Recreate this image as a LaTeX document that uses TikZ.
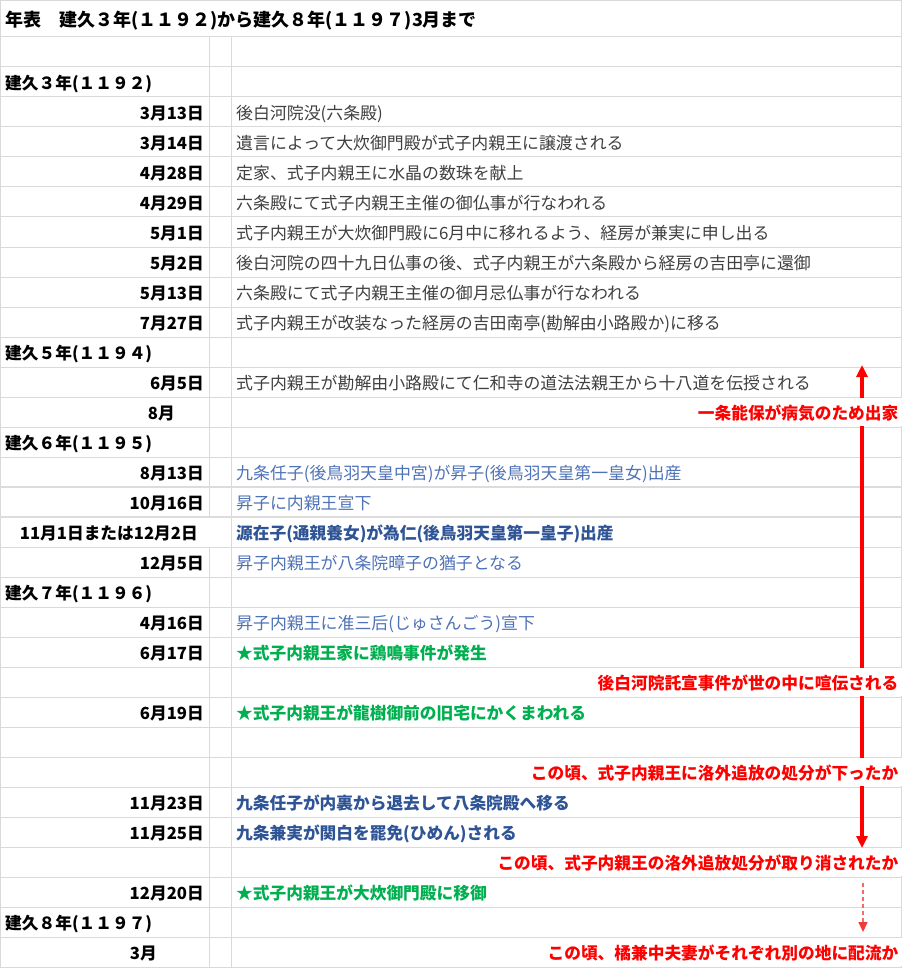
\documentclass[tikz,border=0pt]{standalone}
\usepackage{fontspec}
\setmainfont{Noto Sans CJK JP}
\usetikzlibrary{arrows.meta}
\definecolor{gridc}{HTML}{D9D9D9}
\definecolor{gridthick}{HTML}{DCDCDC}
\definecolor{evgray}{HTML}{404040}
\definecolor{ltblue}{HTML}{4E72B8}
\definecolor{dkblue}{HTML}{2F5496}
\definecolor{exgreen}{HTML}{00B050}
\definecolor{exred}{HTML}{FF0000}
\definecolor{dashred}{HTML}{F26B6B}
\definecolor{dashhead}{HTML}{F03A3A}
\begin{document}
\begin{tikzpicture}[x=1pt,y=-1pt,
  gridline/.style={draw=gridc,line width=1pt},
  thickgrid/.style={draw=gridthick,line width=2.5pt},
  basefont/.style={font=\fontsize{16.9}{20}\selectfont},
  boldfont/.style={font=\fontsize{16.7}{20}\selectfont\bfseries},
  titletxt/.style={inner sep=0pt,anchor=base west,font=\fontsize{18}{22}\selectfont\bfseries},
  yeartxt/.style={inner sep=0pt,anchor=base west,boldfont},
  datetxt/.style={inner sep=0pt,anchor=base east,boldfont},
  evtxt/.style={inner sep=0pt,anchor=base west,basefont,text=evgray},
  lbtxt/.style={inner sep=0pt,anchor=base west,basefont,text=ltblue},
  dbtxt/.style={inner sep=0pt,anchor=base west,boldfont,text=dkblue},
  grtxt/.style={inner sep=0pt,anchor=base west,boldfont,text=exgreen},
  redlabel/.style={anchor=base east,boldfont,text=exred,fill=white,inner xsep=4.5pt,inner ysep=0pt,text height=21.5pt,text depth=6.5pt},
  redarrow/.style={draw=exred,line width=3.3pt,{Triangle[width=11pt,length=12pt]}-{Triangle[width=11pt,length=12pt]}},
  dasharrow/.style={draw=dashred,line width=1.5pt,dash pattern=on 4pt off 3pt,-{Triangle[width=9pt,length=10pt,fill=dashhead,color=dashhead]}}
]
\useasboundingbox (0,0) rectangle (904,968);
\fill[white] (0,0) rectangle (904,968);
% grid
\draw[gridline] (0,0.5) -- (902,0.5);
\foreach \k in {0,...,31} {\draw[gridline] (0,{37+30*\k}) -- (902,{37+30*\k});}
\draw[gridline] (0.5,0) -- (0.5,967.5);
\draw[gridline] (901.5,0) -- (901.5,967.5);
\draw[gridline] (231.5,37) -- (231.5,967.5);
\draw[gridline] (209.5,37) -- (209.5,517);
\draw[gridline] (209.5,547) -- (209.5,967.5);
\draw[thickgrid] (0,487) -- (902,487);
\draw[thickgrid] (0,517) -- (902,517);
% title
\node[titletxt] (title) at (5,26.5) {年表　建久３年(１１９２)から建久８年(１１９７)3月まで};
% rows
\node[yeartxt] (y1) at (5,89.5) {建久３年(１１９２)};
\node[datetxt] (d2) at (204,119.5) {3月13日};
\node[evtxt] (e2) at (236,119.5) {後白河院没(六条殿)};
\node[datetxt] (d3) at (204,149.5) {3月14日};
\node[evtxt] (e3) at (236,149.5) {遺言によって大炊御門殿が式子内親王に譲渡される};
\node[datetxt] (d4) at (204,179.5) {4月28日};
\node[evtxt] (e4) at (236,179.5) {定家、式子内親王に水晶の数珠を献上};
\node[datetxt] (d5) at (204,209.5) {4月29日};
\node[evtxt] (e5) at (236,209.5) {六条殿にて式子内親王主催の御仏事が行なわれる};
\node[datetxt] (d6) at (204,239.5) {5月1日};
\node[evtxt] (e6) at (236,239.5) {式子内親王が大炊御門殿に6月中に移れるよう、経房が兼実に申し出る};
\node[datetxt] (d7) at (204,269.5) {5月2日};
\node[evtxt] (e7) at (236,269.5) {後白河院の四十九日仏事の後、式子内親王が六条殿から経房の吉田亭に還御};
\node[datetxt] (d8) at (204,299.5) {5月13日};
\node[evtxt] (e8) at (236,299.5) {六条殿にて式子内親王主催の御月忌仏事が行なわれる};
\node[datetxt] (d9) at (204,329.5) {7月27日};
\node[evtxt] (e9) at (236,329.5) {式子内親王が改装なった経房の吉田南亭(勘解由小路殿か)に移る};
\node[yeartxt] (y10) at (5,359.5) {建久５年(１１９４)};
\node[datetxt] (d11) at (204,389.5) {6月5日};
\node[evtxt] (e11) at (236,389.5) {式子内親王が勘解由小路殿にて仁和寺の道法法親王から十八道を伝授される};
\node[datetxt] (d12) at (175,419.5) {8月};
\node[yeartxt] (y13) at (5,449.5) {建久６年(１１９５)};
\node[datetxt] (d14) at (204,479.5) {8月13日};
\node[lbtxt] (e14) at (236,479.5) {九条任子(後鳥羽天皇中宮)が昇子(後鳥羽天皇第一皇女)出産};
\node[datetxt] (d15) at (204,509.5) {10月16日};
\node[lbtxt] (e15) at (236,509.5) {昇子に内親王宣下};
\node[datetxt] (d16) at (198,539.5) {11月1日または12月2日};
\node[dbtxt] (e16) at (236,539.5) {源在子(通親養女)が為仁(後鳥羽天皇第一皇子)出産};
\node[datetxt] (d17) at (204,569.5) {12月5日};
\node[lbtxt] (e17) at (236,569.5) {昇子内親王が八条院暲子の猶子となる};
\node[yeartxt] (y18) at (5,599.5) {建久７年(１１９６)};
\node[datetxt] (d19) at (204,629.5) {4月16日};
\node[lbtxt] (e19) at (236,629.5) {昇子内親王に准三后(じゅさんごう)宣下};
\node[datetxt] (d20) at (204,659.5) {6月17日};
\node[grtxt] (e20) at (236,659.5) {★式子内親王家に鶏鳴事件が発生};
\node[datetxt] (d22) at (204,719.5) {6月19日};
\node[grtxt] (e22) at (236,719.5) {★式子内親王が龍樹御前の旧宅にかくまわれる};
\node[datetxt] (d25) at (204,809.5) {11月23日};
\node[dbtxt] (e25) at (236,809.5) {九条任子が内裏から退去して八条院殿へ移る};
\node[datetxt] (d26) at (204,839.5) {11月25日};
\node[dbtxt] (e26) at (236,839.5) {九条兼実が関白を罷免(ひめん)される};
\node[datetxt] (d28) at (204,899.5) {12月20日};
\node[grtxt] (e28) at (236,899.5) {★式子内親王が大炊御門殿に移御};
\node[yeartxt] (y29) at (5,929.5) {建久８年(１１９７)};
\node[datetxt] (d30) at (157,959.5) {3月};
% arrows
\coordinate (a1s) at (862,365);
\coordinate (a1e) at (862,848);
\draw[redarrow] (a1s) -- (a1e);
\coordinate (a2s) at (863,883);
\coordinate (a2e) at (863,932);
\draw[dasharrow] (a2s) -- (a2e);
% red labels
\node[redlabel] (r12) at (903,419.5) {一条能保が病気のため出家};
\node[redlabel] (r21) at (903,689.5) {後白河院託宣事件が世の中に喧伝される};
\node[redlabel] (r24) at (903,779.5) {この頃、式子内親王に洛外追放の処分が下ったか};
\node[redlabel] (r27) at (903,869.5) {この頃、式子内親王の洛外追放処分が取り消されたか};
\node[redlabel] (r30) at (903,959.5) {この頃、橘兼中夫妻がそれぞれ別の地に配流か};
\end{tikzpicture}
\end{document}
